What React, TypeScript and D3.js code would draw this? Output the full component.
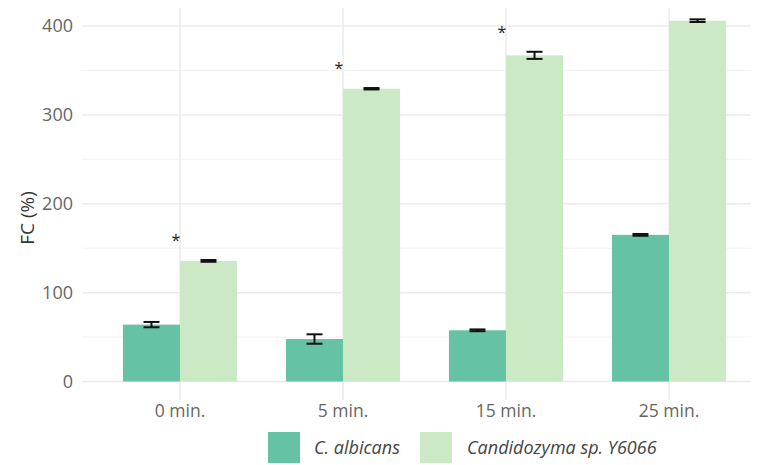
import React from "react";
import * as d3 from "d3";

const categories = ["0 min.", "5 min.", "15 min.", "25 min."];
const seriesNames = ["C. albicans", "Candidozyma sp. Y6066"];
const albicansValues = [64, 47.8, 57.6, 165];
const albicansErrors = [3, 5.3, 1, 1];
const candidozymaValues = [135.7, 329.4, 367, 406];
const candidozymaErrors = [1, 0.8, 4, 1.5];
const significant = [true, true, true, true];
const yTicks = [0, 100, 200, 300, 400];
const yMinorTicks = [50, 150, 250, 350];

const colors = ["#66c2a5", "#cce9c5"];
const FONT = "'Open Sans', sans-serif";
const O = 8; // body margin offset

export default function App() {
  const W = 751;
  const H = 457;
  const x = d3
    .scaleBand<string>()
    .domain(categories)
    .range([98.5 - O, 750.5 - O])
    .paddingInner(0.3)
    .paddingOuter(0.15);
  const xs = d3.scaleBand<string>().domain(seriesNames).range([0, x.bandwidth()]);
  const y = d3.scaleLinear().domain([0, 400]).range([381.5 - O, 26 - O]);
  const series = [
    { name: seriesNames[0], values: albicansValues, errs: albicansErrors },
    { name: seriesNames[1], values: candidozymaValues, errs: candidozymaErrors },
  ];
  const plotLeft = 82 - O;
  const plotRight = W;
  const center = (c: string) => (x(c) as number) + x.bandwidth() / 2;

  return (
    <svg width={W} height={H} style={{ display: "block" }}>
      {yMinorTicks.map((t) => (
        <line key={"m" + t} x1={plotLeft} x2={plotRight} y1={y(t)} y2={y(t)} stroke="#f3f3f3" strokeWidth={1} />
      ))}
      {yTicks.map((t) => (
        <line key={"g" + t} x1={plotLeft} x2={plotRight} y1={y(t)} y2={y(t)} stroke="#ebebeb" strokeWidth={1.5} />
      ))}
      {categories.map((c) => (
        <line key={"v" + c} x1={center(c)} x2={center(c)} y1={0} y2={400 - O} stroke="#ebebeb" strokeWidth={1.5} />
      ))}
      {series.map((s, si) =>
        categories.map((c, i) => (
          <rect
            key={s.name + c}
            x={(x(c) as number) + (xs(s.name) as number)}
            y={y(s.values[i])}
            width={xs.bandwidth()}
            height={y(0) - y(s.values[i])}
            fill={colors[si]}
          />
        ))
      )}
      {series.map((s) =>
        categories.map((c, i) => {
          const cx = (x(c) as number) + (xs(s.name) as number) + xs.bandwidth() / 2;
          const top = y(s.values[i] + s.errs[i]);
          const bot = y(s.values[i] - s.errs[i]);
          return (
            <g key={"e" + s.name + c} stroke="#111" strokeWidth={2}>
              <line x1={cx} x2={cx} y1={top} y2={bot} />
              <line x1={cx - 8} x2={cx + 8} y1={top} y2={top} />
              <line x1={cx - 8} x2={cx + 8} y1={bot} y2={bot} />
            </g>
          );
        })
      )}
      {categories.map((c, i) =>
        significant[i] ? (
          <text
            key={"s" + c}
            x={center(c) - 4}
            y={y(candidozymaValues[i] + candidozymaErrors[i]) - 22 + 8}
            textAnchor="middle"
            fontFamily={FONT}
            fontSize={16}
            fill="#222"
          >
            *
          </text>
        ) : null
      )}
      {yTicks.map((t) => (
        <text
          key={"yt" + t}
          x={73 - O}
          y={y(t)}
          dy="0.35em"
          textAnchor="end"
          fontFamily={FONT}
          fontSize={18}
          fill="#666"
        >
          {t}
        </text>
      ))}
      {categories.map((c) => (
        <text
          key={"xt" + c}
          x={center(c)}
          y={411 - O}
          dy="0.35em"
          textAnchor="middle"
          fontFamily={FONT}
          fontSize={17.5}
          fill="#666"
        >
          {c}
        </text>
      ))}
      <text
        transform={`translate(${27 - O},${218 - O}) rotate(-90)`}
        textAnchor="middle"
        dy="0.35em"
        fontFamily={FONT}
        fontSize={19}
        fill="#333"
      >
        FC (%)
      </text>
      {series.map((s, si) => {
        const lx = [268, 420][si] - O;
        const tx = [314, 467][si] - O;
        return (
          <g key={"l" + s.name}>
            <rect x={lx} y={432 - O} width={32} height={31} fill={colors[si]} />
            <text
              x={tx}
              y={448 - O}
              dy="0.35em"
              fontFamily={FONT}
              fontSize={18}
              fontStyle="italic"
              fill="#444"
            >
              {s.name}
            </text>
          </g>
        );
      })}
    </svg>
  );
}
